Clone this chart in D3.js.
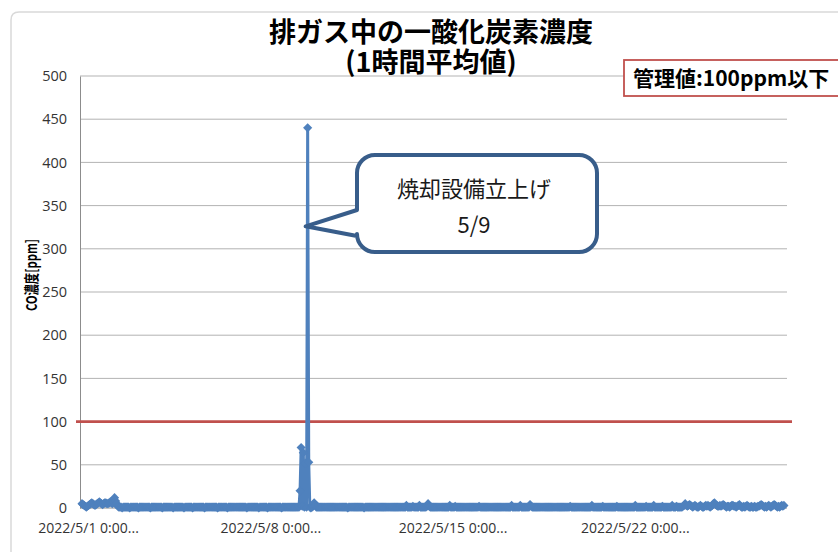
<!DOCTYPE html>
<html><head><meta charset="utf-8">
<script src="https://cdn.jsdelivr.net/npm/d3@7"></script>
<style>body{margin:0;background:#fff} svg{display:block}</style>
</head><body>
<svg id="chart" width="838" height="552"></svg>
<script>
// ---------------- data ----------------
const titleLines = ["排ガス中の一酸化炭素濃度", "(1時間平均値)"];
const yAxisTitle = "CO濃度[ppm]";
const limitLabel = "管理値:100ppm以下";
const limitValue = 100;
const calloutLines = ["焼却設備立上げ", "5/9"];
const calloutValue = 326;
const seriesStart = "2022-05-01T00:00:00";
const seriesEnd = "2022-05-28T00:00:00";
const yTicks = [0, 50, 100, 150, 200, 250, 300, 350, 400, 450, 500];
const xTickDates = ["2022-05-01T00:00:00", "2022-05-08T00:00:00", "2022-05-15T00:00:00", "2022-05-22T00:00:00"];
const xTickLabels = ["2022/5/1 0:00...", "2022/5/8 0:00...", "2022/5/15 0:00...", "2022/5/22 0:00..."];
// hourly CO concentration [ppm], one row per day (5/1 .. 5/27)
const coHourly = [
  5,4,3,2,1,2,3,4,5,6,5,4,3,4,5,6,7,6,5,4,5,6,6,5,
  5,6,7,6,5,7,12,8,5,2,1,1,1,0,1,1,1,1,1,1,0,1,1,1,
  1,1,1,1,0,1,1,1,1,1,1,1,1,1,1,0,1,1,1,1,1,1,1,1,
  1,1,0,1,1,1,1,1,1,1,1,1,0,1,1,1,1,1,1,1,1,1,0,1,
  1,1,1,1,1,1,0,1,1,1,1,1,1,1,1,1,1,0,1,1,1,1,1,1,
  1,1,1,1,1,0,1,1,1,1,1,1,1,1,0,1,1,1,1,1,1,1,1,1,
  1,1,1,1,1,1,1,1,0,1,1,1,1,1,1,1,1,1,1,0,1,1,1,1,
  1,1,1,0,1,1,1,1,1,1,1,1,1,1,1,1,0,1,1,1,1,1,1,1,
  1,1,1,1,1,1,1,1,1,20,70,2,64,1,52,1,440,53,1,0,1,2,6,3,
  1,1,1,1,1,1,1,1,1,1,1,1,1,1,1,1,1,1,1,1,1,1,1,1,
  1,1,1,1,1,0,1,1,1,1,1,1,1,1,1,1,1,1,1,1,0,1,1,1,
  1,1,1,1,1,1,1,1,1,1,1,1,1,1,1,1,1,1,1,1,1,1,1,1,
  1,1,1,1,1,1,1,1,1,1,1,3,1,1,1,1,1,2,1,1,1,1,1,3,
  1,1,1,1,1,1,2,5,2,1,1,1,1,1,1,1,1,1,1,1,1,1,1,1,
  1,1,1,3,1,1,1,1,2,1,1,1,1,1,1,1,1,1,1,1,1,1,1,1,
  1,1,1,1,1,1,2,1,1,1,1,1,1,1,1,1,1,1,1,1,1,1,1,1,
  1,1,1,1,1,1,1,1,1,1,1,1,3,1,1,1,1,1,1,1,3,1,1,1,
  1,1,1,1,1,4,2,1,1,1,1,1,1,1,1,1,1,1,1,1,1,1,1,1,
  1,1,1,1,1,1,1,1,1,1,1,1,1,1,1,1,1,1,2,1,1,1,1,1,
  1,1,1,1,1,1,1,1,1,1,1,1,1,1,3,1,1,1,1,1,1,1,1,1,
  2,1,1,1,1,1,1,1,1,1,1,1,1,2,1,1,1,1,1,1,1,1,1,1,
  1,1,1,1,1,1,3,1,1,1,1,1,1,1,1,1,2,1,1,1,1,1,1,3,
  1,1,1,1,1,1,1,2,1,1,1,1,1,1,1,1,3,1,1,1,2,1,1,1,
  1,1,2,3,5,3,2,3,4,3,2,1,2,3,2,1,1,2,3,2,1,1,2,3,
  2,3,2,1,2,3,5,6,4,3,2,2,3,2,3,4,3,2,1,2,2,1,2,3,
  3,2,2,1,2,3,4,2,1,1,2,1,2,3,2,1,1,2,1,1,2,1,1,2,
  2,3,4,3,2,1,2,1,2,3,2,1,2,3,4,3,2,1,2,1,2,3,2,3
];

// ---------------- drawing ----------------
const svg = d3.select("#chart");
const W = 838, H = 552;
const startDate = new Date(seriesStart);
const data = coHourly.map((v, i) => ({ t: d3.timeHour.offset(startDate, i), v }));
const spike = data.reduce((a, b) => (b.v > a.v ? b : a));

const x = d3.scaleTime().domain([new Date(seriesStart), new Date(seriesEnd)]).range([82, 785]);
const y = d3.scaleLinear().domain([0, 500]).range([508, 76]);
const plotL = 80, plotR = 787;

const jpFont = "'Noto Sans CJK JP', 'Noto Sans', sans-serif";
const numFont = "'Open Sans', 'Noto Sans', sans-serif";

svg.append("rect").attr("width", W).attr("height", H).attr("fill", "#fff");

// outer chart border (only top/left visible)
svg.append("path")
  .attr("d", `M${W + 5},12 H19 Q11,12 11,20 V${H + 5}`)
  .attr("fill", "none").attr("stroke", "#d9d9d9").attr("stroke-width", 1.5);

// gridlines
svg.append("g").selectAll("line").data(yTicks.filter(d => d > 0)).join("line")
  .attr("x1", plotL).attr("x2", plotR)
  .attr("y1", d => y(d)).attr("y2", d => y(d))
  .attr("stroke", "#b3b3b3").attr("stroke-width", 1);

// y axis
const yAxis = svg.append("g").attr("transform", `translate(${plotL},0)`)
  .call(d3.axisLeft(y).tickValues(yTicks).tickSize(0).tickPadding(13));
yAxis.select(".domain").attr("stroke", "#8c8c8c").attr("stroke-width", 1);
yAxis.selectAll("text").attr("font-family", numFont).attr("font-size", 14.5).attr("fill", "#333");

// x axis
const xAxis = svg.append("g").attr("transform", `translate(0,${y(0)})`)
  .call(d3.axisBottom(x).tickValues(xTickDates.map(d => new Date(d)))
    .tickFormat((d, i) => xTickLabels[i]).tickSize(0).tickPadding(15));
xAxis.select(".domain").attr("stroke", "#8c8c8c").attr("stroke-width", 1)
  .attr("d", `M${plotL},0H${plotR}`);
xAxis.selectAll("text").attr("font-family", numFont).attr("font-size", 14)
  .attr("fill", "#333").attr("dx", 6);

// y axis title
svg.append("text")
  .attr("transform", `translate(37,275) rotate(-90)`)
  .attr("text-anchor", "middle")
  .attr("font-family", jpFont).attr("font-weight", "bold").attr("font-size", 15)
  .attr("textLength", 72).attr("lengthAdjust", "spacingAndGlyphs")
  .attr("fill", "#000").text(yAxisTitle);

// limit line
svg.append("line")
  .attr("x1", 76).attr("x2", 792)
  .attr("y1", y(limitValue)).attr("y2", y(limitValue))
  .attr("stroke", "#c0504d").attr("stroke-width", 2.8);

// series line
const blue = "#4f81bd";
svg.append("path").datum(data)
  .attr("d", d3.line().x(d => x(d.t)).y(d => y(d.v)))
  .attr("fill", "none").attr("stroke", blue).attr("stroke-width", 3)
  .attr("stroke-linejoin", "round");

const diamond = {
  draw(ctx, size) {
    const r = Math.sqrt(size / 2);
    ctx.moveTo(0, -r); ctx.lineTo(r, 0); ctx.lineTo(0, r); ctx.lineTo(-r, 0); ctx.closePath();
  }
};
svg.append("g").selectAll("path").data(data).join("path")
  .attr("transform", d => `translate(${x(d.t)},${y(d.v)})`)
  .attr("d", d3.symbol(diamond, 42))
  .attr("fill", blue);

// title
svg.append("g").selectAll("text").data(titleLines).join("text")
  .attr("x", 431).attr("y", (d, i) => 42 + i * 30)
  .attr("text-anchor", "middle")
  .attr("font-family", jpFont).attr("font-weight", "bold").attr("font-size", 27)
  .attr("fill", "#000").text(d => d);

// limit legend box
svg.append("rect").attr("x", 624).attr("y", 60).attr("width", 230).attr("height", 36)
  .attr("fill", "#fff").attr("stroke", "#c0504d").attr("stroke-width", 1.8);
svg.append("text").attr("x", 633).attr("y", 86)
  .attr("font-family", jpFont).attr("font-weight", "bold").attr("font-size", 21)
  .attr("fill", "#000").text(limitLabel);

// callout
const tipX = x(spike.t) - 2, tipY = y(calloutValue);
const bx0 = 357, bx1 = 597, by0 = 155, by1 = 252, r = 18;
const calloutPath = `M${bx0 + r},${by0} H${bx1 - r} A${r},${r} 0 0 1 ${bx1},${by0 + r} V${by1 - r}` +
  ` A${r},${r} 0 0 1 ${bx1 - r},${by1} H${bx0 + r} A${r},${r} 0 0 1 ${bx0},${by1 - r}` +
  ` V236 L${tipX},${tipY} L${bx0},210 V${by0 + r} A${r},${r} 0 0 1 ${bx0 + r},${by0} Z`;
svg.append("path").attr("d", calloutPath)
  .attr("fill", "#fff").attr("stroke", "#385d8a").attr("stroke-width", 4)
  .attr("stroke-linejoin", "round");
svg.append("g").selectAll("text").data(calloutLines).join("text")
  .attr("x", 474).attr("y", (d, i) => 197 + i * 36)
  .attr("text-anchor", "middle")
  .attr("font-family", jpFont).attr("font-size", 22)
  .attr("fill", "#1a1a1a").text(d => d);
</script>
</body></html>
